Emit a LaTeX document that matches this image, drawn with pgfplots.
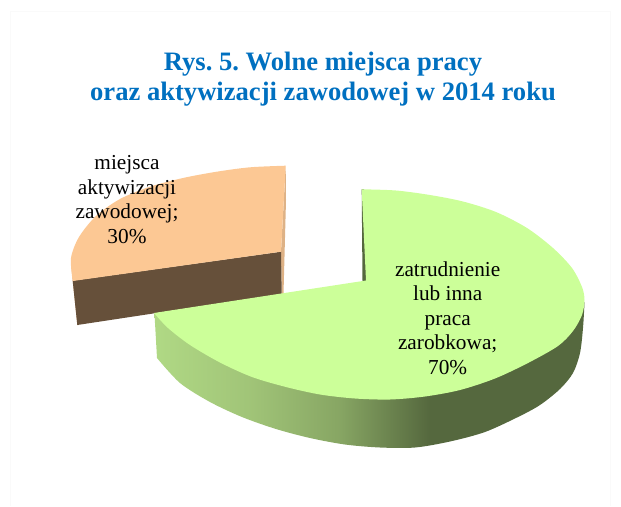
\documentclass[border=0pt]{standalone}
\usepackage{fontspec}
\setmainfont{Liberation Serif}
\usepackage{pgfplots}
\pgfplotsset{compat=1.18}
\definecolor{titleblue}{RGB}{0,112,192}
\definecolor{greentop}{RGB}{204,255,153}
\definecolor{greendark}{RGB}{85,104,62}
\definecolor{peachtop}{RGB}{252,200,148}
\definecolor{peachside}{RGB}{222,178,134}
\definecolor{brownside}{RGB}{102,80,58}
\pgfdeclarehorizontalshading{wallshade}{100bp}{%
  rgb(0bp)=(0.69,0.85,0.52);
  rgb(25bp)=(0.69,0.85,0.52);
  rgb(36bp)=(0.63,0.77,0.47);
  rgb(46.5bp)=(0.53,0.65,0.39);
  rgb(57bp)=(0.333,0.408,0.243);
  rgb(100bp)=(0.333,0.408,0.243)}
\frenchspacing
\begin{document}
\begin{tikzpicture}
\begin{axis}[
  scale only axis, width=621pt, height=506pt,
  xmin=0, xmax=621, ymin=0, ymax=506, y dir=reverse,
  axis lines=none, clip=false,
  every axis plot/.append style={no markers, line join=round},
]
\path (axis cs:0,0) rectangle (axis cs:621,506);
% faint chart-area frame
\addplot[draw=black!2, line width=0.8pt] coordinates {(10,506) (10,11) (610,11) (610,506)};

% 30% slice: miejsca aktywizacji zawodowej (pulled out)
\addplot[draw=none, fill=peachside] coordinates {(285.7,165.7) (281,252) (281.7,294) (283.5,294) (286,200)} -- cycle;
\addplot[draw=none, fill=peachside] coordinates {(71,262) (72.7,281) (77.3,325) (78.5,325) (74,281)} -- cycle;
\addplot[draw=none, fill=brownside] coordinates {(72.7,280.7) (281,251.7) (281.7,294) (77.3,325)} -- cycle;
\addplot[draw=none, fill=peachtop, smooth] coordinates {
  (72.7,281) (71,258) (79,237) (96,216) (120,199) (150,186.7)
  (183,178) (216.7,171.7) (250,167.3) (285.7,165.7)} -- (281,251.7) -- cycle;

% 70% slice: zatrudnienie lub inna praca zarobkowa
\addplot[draw=none, shading=wallshade, shading angle=0, smooth] coordinates {
  (157,358) (180,383) (210,402) (242,417) (276,429) (310,438) (345,444.5)
  (380,447.5) (415,447.5) (450,441.5) (485,432) (518,417) (540,405) (560,389)
  (573,373) (580,353) (583,328) (584.5,303)} -- (583,300) -- (300,300) -- (154.5,314) -- cycle;
\addplot[draw=none, fill=greendark] coordinates {(361.7,189.3) (362.5,281) (366.5,281) (364,189.3)} -- cycle;
\addplot[draw=none, fill=greentop, smooth] coordinates {
  (361.7,189.3) (396,190.5) (430,195) (463,201.5) (496,212) (527,228) (553,248)
  (572,268) (582,287) (584.5,300) (582,315) (573,331) (558,346) (528,363) (495,378.5) (460,390)
  (425,396.5) (390,399.5) (355,398.5) (320,394.5) (286,387) (252,377) (220,362.5)
  (190,345) (168,328) (154,313)} -- (366,280.5) -- cycle;

% texts
\node[anchor=north, align=center, inner sep=0pt, text=titleblue,
  font=\fontsize{26.6}{30}\selectfont\bfseries] at (axis cs:323,51.5)
  {Rys. 5. Wolne miejsca pracy\\oraz aktywizacji zawodowej w 2014 roku};
\node[anchor=north, align=center, inner sep=0pt,
  font=\fontsize{21.3}{24.5}\selectfont] at (axis cs:447.7,261.5)
  {zatrudnienie\\lub inna\\praca\\zarobkowa;\\70\%};
\node[anchor=north, align=center, inner sep=0pt,
  font=\fontsize{21.3}{24.5}\selectfont] at (axis cs:127,155.5)
  {miejsca\\aktywizacji\\zawodowej;\\30\%};
\end{axis}
\end{tikzpicture}
\end{document}
